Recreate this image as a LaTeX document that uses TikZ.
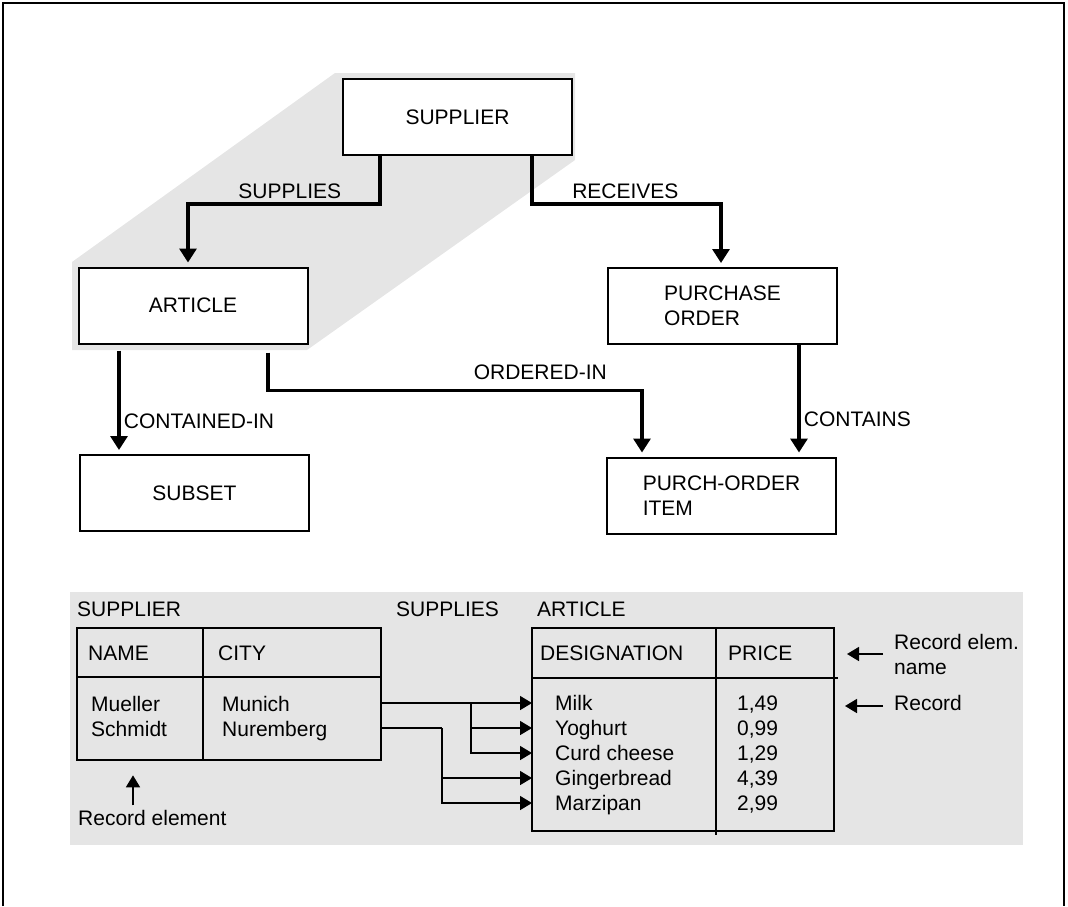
\documentclass[tikz,border=0pt]{standalone}
\usepackage{fontspec}
\setmainfont{Liberation Sans}
\usetikzlibrary{arrows.meta,positioning}

\begin{document}
\begin{tikzpicture}[x=1pt,y=-1pt,
    every node/.style={font=\fontsize{21pt}{25pt}\selectfont},
    entity/.style={draw,line width=2pt,fill=white,minimum width=229pt,minimum height=76pt,inner sep=0pt,align=left},
    rel/.style={line width=3.2pt,shorten >=4pt,-{Triangle[length=14pt,width=17pt]}},
    tbl/.style={draw,line width=2pt,inner sep=0pt,outer sep=0pt},
    cell/.style={anchor=west,inner sep=0pt,text height=15pt,text depth=0pt},
    link/.style={line width=1.6pt,-{Triangle[length=12pt,width=14pt]}},
    sep/.style={line width=1.3pt}]
  \useasboundingbox (0,0) rectangle (1068,906);
  \draw[line width=1.5pt] (3,906) -- (3,3) -- (1064,3) -- (1064,906);
  % shaded record types and the occurrence panel
  \fill[black!10] (72,350) -- (72,262) -- (335,73) -- (575,73) -- (575,160) -- (307,350) -- cycle;
  \fill[black!10] (70,592) rectangle (1023,845);

  \node[entity] (supplier) at (457.5,117) {SUPPLIER};
  \node[entity] (article)  at (193,305.5) {ARTICLE};
  \node[entity] (order)    at (722.5,306) {PURCHASE\\ORDER};
  \node[entity] (subset)   at (194.5,493) {SUBSET};
  \node[entity] (item)     at (721.5,495.5) {PURCH-ORDER\\ITEM};

  \draw[rel] ([xshift=-77.5pt]supplier.south) -- ++(0,48) -| node[above,pos=.235] {SUPPLIES} ([xshift=-5pt]article.north);
  \draw[rel] ([xshift=74.5pt]supplier.south) -- ++(0,48) -| node[above,pos=.247] {RECEIVES} ([xshift=-1.5pt]order.north);
  \draw[rel] ([xshift=76.5pt]order.south) -- node[right,pos=.67] {CONTAINS} ([xshift=76.5pt]order.south |- item.north);
  \draw[rel,shorten <=6pt] ([xshift=-74pt]article.south) -- node[right,pos=.7] {CONTAINED-IN} ([xshift=-74pt]article.south |- subset.north);
  \draw[rel,shorten <=8pt] ([xshift=75pt]article.south) -- ++(0,46) -| node[above=6pt,pos=.364] {ORDERED-IN} ([xshift=-79.5pt]item.north);

  % occurrences
  \node[cell] (suplbl) at (77,609) {SUPPLIER};
  \node[cell] (rellbl) at (396,609) {SUPPLIES};
  \node[cell] (artlbl) at (537,609) {ARTICLE};

  \node[tbl,minimum width=304pt,minimum height=132pt] (suptab) at (229,694) {};
  \draw[sep] ([xshift=-26pt]suptab.north) -- ([xshift=-26pt]suptab.south);
  \draw[sep] ([yshift=17pt]suptab.west) -- ([yshift=17pt]suptab.east);
  \node[cell] (hname) at (88,653) {NAME};
  \node[cell] (hcity) at (218,653) {CITY};
  \foreach \n/\c [count=\i] in {Mueller/Munich,Schmidt/Nuremberg} {
    \node[cell] (n\i) at (91,679+25*\i) {\n};
    \node[cell] (c\i) at (222,679+25*\i) {\c};
  }

  \node[tbl,minimum width=302pt,minimum height=203pt] (arttab) at (683,729.5) {};
  \draw[sep] ([xshift=33pt]arttab.north) -- ([xshift=33pt,yshift=-4pt]arttab.south);
  \draw[sep] ([yshift=51.5pt]arttab.west) -- ([xshift=4pt,yshift=51.5pt]arttab.east);
  \node[cell] (hdes) at (540,653) {DESIGNATION};
  \node[cell] (hprice) at (728,653) {PRICE};
  \foreach \a/\p [count=\i] in {{Milk/1,49},{Yoghurt/0,99},{Curd cheese/1,29},{Gingerbread/4,39},{Marzipan/2,99}} {
    \node[cell] (r\i) at (555,678+25*\i) {\a};
    \node[cell] (p\i) at (737,678+25*\i) {\p};
  }

  \coordinate (fork1) at (471,0 |- r1);
  \coordinate (fork2) at (442,0 |- r2);
  \draw[link] (suptab.east |- r1) -- (arttab.west |- r1);
  \draw[link] (fork1) |- (arttab.west |- r2);
  \draw[link] (fork1) |- (arttab.west |- r3);
  \draw[line width=1.6pt] (suptab.east |- r2) -- (fork2);
  \draw[link] (fork2) |- (arttab.west |- r4);
  \draw[link] (fork2) |- (arttab.west |- r5);

  \node[anchor=west,inner sep=0pt,align=left] (enote) at (894,654) {Record elem.\\name};
  \draw[link] ([xshift=-11pt]enote.west) -- ++(-36,0);
  \node[cell] (rnote) at (894,703) {Record};
  \draw[link] ([xshift=-11pt,yshift=-3pt]rnote.west) -- ++(-38,0);
  \node[cell] (elabel) at (78,818) {Record element};
  \draw[link] ([xshift=55pt,yshift=5pt]elabel.north west) -- ++(0,-30);
\end{tikzpicture}
\end{document}
